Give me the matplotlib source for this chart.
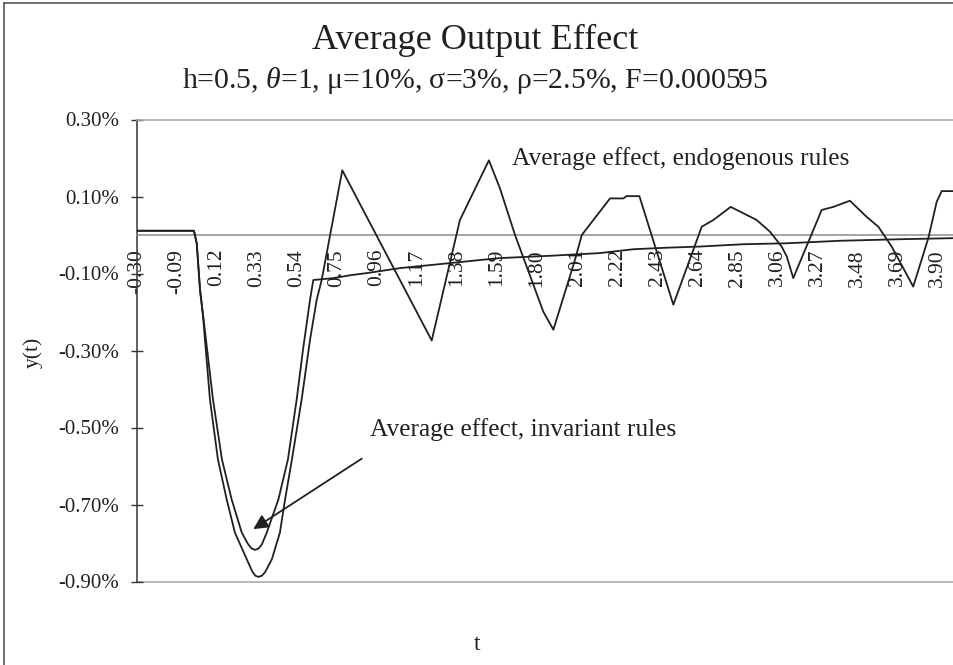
import matplotlib
matplotlib.use('Agg')
import matplotlib.pyplot as plt
from matplotlib.lines import Line2D

plt.rcParams['font.family'] = ['Liberation Serif', 'DejaVu Serif']
plt.rcParams['mathtext.fontset'] = 'custom'
plt.rcParams['mathtext.rm'] = 'Liberation Serif'
plt.rcParams['mathtext.it'] = 'Liberation Serif:italic'

# ---------------- data (values in percent) ----------------
invariant_t = [-0.30, 0.000, 0.015, 0.032, 0.049, 0.100, 0.147, 0.198, 0.251, 0.284,
               0.302, 0.320, 0.340, 0.357, 0.382, 0.443, 0.493, 0.539, 0.572, 0.609,
               0.626, 0.731, 0.827, 0.906, 1.081, 1.343, 1.500, 1.605, 1.867, 2.129,
               2.304, 2.479, 2.654, 2.881, 3.109, 3.388, 3.703, 4.000]
invariant_y = [0.011, 0.011, -0.022, -0.142, -0.212, -0.427, -0.583, -0.687, -0.773, -0.803,
               -0.814, -0.818, -0.814, -0.803, -0.773, -0.687, -0.583, -0.427, -0.298, -0.168,
               -0.117, -0.112, -0.104, -0.099, -0.086, -0.073, -0.065, -0.060, -0.054, -0.047,
               -0.037, -0.033, -0.030, -0.024, -0.0215, -0.015, -0.011, -0.008]

endogenous_t = [-0.30, 0.000, 0.015, 0.032, 0.048, 0.084, 0.126, 0.172, 0.215, 0.277,
                0.305, 0.322, 0.338, 0.356, 0.373, 0.409, 0.451, 0.478, 0.514, 0.565,
                0.609, 0.644, 0.670, 0.778, 1.247, 1.395, 1.547, 1.605, 1.684, 1.832,
                1.885, 1.998, 2.034, 2.182, 2.252, 2.269, 2.336, 2.514, 2.663, 2.724,
                2.815, 2.899, 2.951, 3.021, 3.082, 3.109, 3.143, 3.292, 3.353, 3.440,
                3.528, 3.589, 3.659, 3.772, 3.851, 3.895, 3.921, 4.000]
endogenous_y = [0.011, 0.011, -0.022, -0.142, -0.212, -0.427, -0.583, -0.687, -0.773, -0.842,
                -0.873, -0.885, -0.888, -0.885, -0.876, -0.842, -0.773, -0.687, -0.583, -0.427,
                -0.272, -0.168, -0.117, 0.168, -0.274, 0.039, 0.194, 0.121, 0.000, -0.199,
                -0.246, -0.065, 0.000, 0.095, 0.095, 0.101, 0.101, -0.181, 0.0215, 0.039,
                0.073, 0.052, 0.039, 0.0085, -0.030, -0.056, -0.112, 0.065, 0.073, 0.089,
                0.047, 0.0215, -0.030, -0.134, -0.0085, 0.086, 0.114, 0.114]

x_tick_values = [-0.30, -0.09, 0.12, 0.33, 0.54, 0.75, 0.96, 1.17, 1.38, 1.59, 1.80,
                 2.01, 2.22, 2.43, 2.64, 2.85, 3.06, 3.27, 3.48, 3.69, 3.90]
x_tick_labels = ['-0.30', '-0.09', '0.12', '0.33', '0.54', '0.75', '0.96', '1.17', '1.38',
                 '1.59', '1.80', '2.01', '2.22', '2.43', '2.64', '2.85', '3.06', '3.27',
                 '3.48', '3.69', '3.90']
y_tick_values = [-0.9, -0.7, -0.5, -0.3, -0.1, 0.1, 0.3]
y_tick_labels = ['-0.90%', '-0.70%', '-0.50%', '-0.30%', '-0.10%', '0.10%', '0.30%']

title_text = 'Average Output Effect'
subtitle_text = r'h=0.5, $\theta$=1, μ=10%, σ=3%, ρ=2.5%, F=0.000595'
label_endog = 'Average effect, endogenous rules'
label_invar = 'Average effect, invariant rules'

# ---------------- figure ----------------
W, H = 954, 665
fig = plt.figure(figsize=(W / 100, H / 100), dpi=100)
fig.patch.set_facecolor('white')

ax_left, ax_right, ax_top, ax_bottom = 136.7, 956.7, 119.5, 581.5
ax = fig.add_axes([ax_left / W, 1 - ax_bottom / H, (ax_right - ax_left) / W, (ax_bottom - ax_top) / H])
ax.set_xlim(-0.30, 4.00)
ax.set_ylim(-0.9, 0.3)

dark = '#231f20'
tan = '#b5a99f'

ax.plot(invariant_t, invariant_y, color=dark, lw=1.3, solid_joinstyle='round', zorder=3)
ax.plot(endogenous_t, endogenous_y, color=dark, lw=1.3, solid_joinstyle='round', zorder=3)

# spines
ax.spines['right'].set_visible(False)
ax.spines['left'].set_color('#3b3333')
ax.spines['left'].set_linewidth(1.1)
ax.spines['top'].set_color(tan)
ax.spines['top'].set_linewidth(1.2)
ax.spines['bottom'].set_position(('data', 0))
ax.spines['bottom'].set_color('#8c8c8c')
ax.spines['bottom'].set_linewidth(1.1)
ax.axhline(-0.9, color=tan, lw=1.2, clip_on=False, zorder=1)

ax.set_xticks(x_tick_values)
ax.set_xticklabels(x_tick_labels)
ax.tick_params(axis='x', length=0, pad=10, labelsize=15.5, labelrotation=90, labelcolor=dark)
ax.set_yticks(y_tick_values)
ax.set_yticklabels(y_tick_labels)
ax.tick_params(axis='y', direction='inout', length=8.6, width=1.0, color='#3b3333',
               pad=8.4, labelsize=15, labelcolor=dark)

# annotations
ax.text(1.668, 0.199, label_endog, fontsize=18.3, color=dark, ha='left', va='center')
ax.text(0.923, -0.505, label_invar, fontsize=18.3, color=dark, ha='left', va='center')
ax.annotate('', xy=(0.311, -0.764), xytext=(0.880, -0.581),
            arrowprops=dict(arrowstyle='-|>', mutation_scale=22, lw=1.3, color=dark,
                            shrinkA=0, shrinkB=0))

# titles and axis labels
fig.text(475 / W, 1 - 40 / H, title_text, ha='center', va='center', fontsize=26, color=dark)
fig.text(475 / W, 1 - 80 / H, subtitle_text, ha='center', va='center', fontsize=21.4, color=dark)
fig.text(33 / W, 1 - 352 / H, 'y(t)', rotation=90, ha='center', va='center', fontsize=15.5, color=dark)
fig.text(477 / W, 1 - 645 / H, 't', ha='center', va='center', fontsize=17, color=dark)

# outer chart frame (top and left edges visible)
fig.add_artist(Line2D([4 / W, 4 / W], [0, 1 - 3 / H], transform=fig.transFigure, color='#555555', lw=1.2))
fig.add_artist(Line2D([4 / W, 1], [1 - 3 / H, 1 - 3 / H], transform=fig.transFigure, color='#555555', lw=1.2))

fig.savefig('out.png', dpi=100)
